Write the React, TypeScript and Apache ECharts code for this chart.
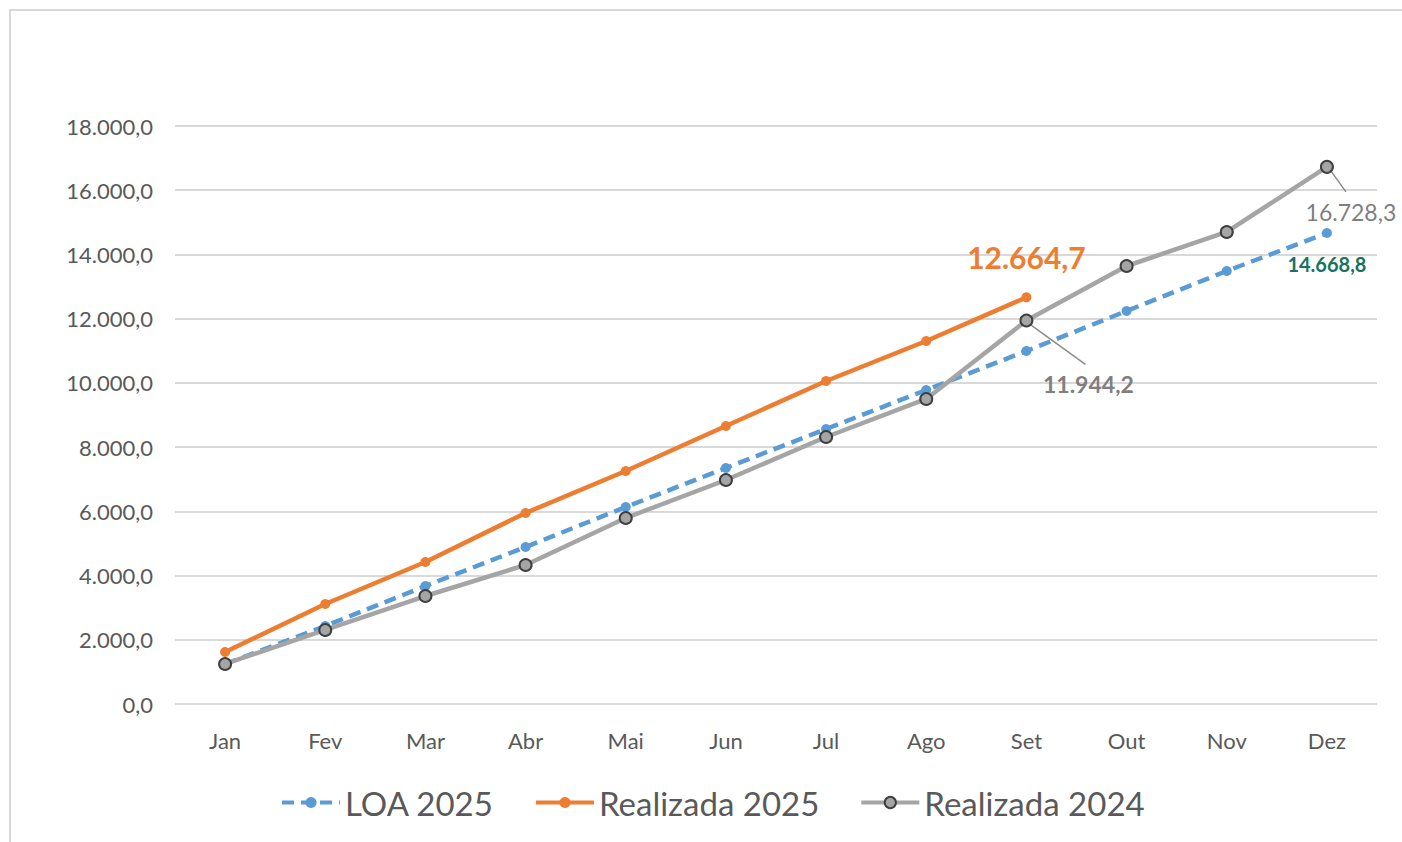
import React, { useEffect, useRef } from "react";
import * as echarts from "echarts";

const months = ["Jan", "Fev", "Mar", "Abr", "Mai", "Jun", "Jul", "Ago", "Set", "Out", "Nov", "Dez"];
const loa2025 = [1246, 2429, 3675, 4889, 6135, 7350, 8564, 9779, 10993, 12239, 13485, 14668.8];
const real2025 = [1619, 3114, 4422, 5948, 7256, 8657, 10059, 11305, 12664.7];
const real2024 = [1246, 2305, 3363, 4329, 5793, 6976, 8315, 9499, 11944.2, 13640, 14700, 16728.3];

const fmt = (v: number) => {
  const s = v.toFixed(1);
  const [i, d] = s.split(".");
  return i.replace(/\B(?=(\d{3})+(?!\d))/g, ".") + "," + d;
};

const FONT = "Lato, 'Open Sans', sans-serif";

export default function App() {
  const ref = useRef<HTMLDivElement>(null);
  useEffect(() => {
    if (!ref.current) return;
    const chart = echarts.init(ref.current, null, { renderer: "svg" });
    const lastLoa = loa2025.length - 1;
    const lastR25 = real2025.length - 1;
    const border = {
      type: "rect",
      id: "border",
      shape: { x: 10, y: 10, width: 1420, height: 860 },
      style: { fill: "none", stroke: "#d9d9d9", lineWidth: 2 },
      silent: true,
    };
    chart.setOption({
      animation: false,
      backgroundColor: "#ffffff",
      textStyle: { fontFamily: FONT },
      graphic: [border],
      grid: { left: 175, right: 25, top: 126, bottom: 138, containLabel: false },
      legend: {
        bottom: 18,
        left: 275,
        itemWidth: 58,
        itemHeight: 14,
        itemGap: 40,
        lineStyle: { width: 4 },
        textStyle: { fontSize: 33, color: "#595959", fontFamily: FONT },
        data: ["LOA 2025", "Realizada 2025", "Realizada 2024"],
      },
      xAxis: {
        type: "category",
        data: months,
        boundaryGap: true,
        axisLine: { show: false },
        axisTick: { show: false },
        axisLabel: { color: "#595959", fontSize: 22, margin: 25, fontFamily: FONT },
      },
      yAxis: {
        type: "value",
        min: 0,
        max: 18000,
        interval: 2000,
        axisLine: { show: false },
        axisTick: { show: false },
        splitLine: { lineStyle: { color: "#d9d9d9", width: 2 } },
        axisLabel: { color: "#595959", fontSize: 22, margin: 22, formatter: (v: number) => fmt(v), fontFamily: FONT },
      },
      series: [
        {
          name: "LOA 2025",
          type: "line",
          data: loa2025.map((v, i) =>
            i === lastLoa
              ? {
                  value: v,
                  label: {
                    show: true,
                    position: "bottom",
                    distance: 16,
                    formatter: (p: any) => fmt(p.value),
                    color: "#17735f",
                    fontWeight: "bold",
                    fontSize: 20,
                  },
                }
              : v
          ),
          symbol: "circle",
          symbolSize: 10,
          itemStyle: { color: "#5b9bd5" },
          lineStyle: { color: "#5b9bd5", width: 4.5, type: [12, 7] },
          z: 2,
        },
        {
          name: "Realizada 2025",
          type: "line",
          data: real2025.map((v, i) =>
            i === lastR25
              ? {
                  value: v,
                  label: {
                    show: true,
                    position: "top",
                    distance: 8,
                    offset: [0, -12],
                    formatter: (p: any) => fmt(p.value),
                    color: "#ed7d31",
                    fontWeight: "bold",
                    fontSize: 30,
                  },
                }
              : v
          ),
          symbol: "circle",
          symbolSize: 10,
          itemStyle: { color: "#ed7d31" },
          lineStyle: { color: "#ed7d31", width: 4.5 },
          z: 3,
        },
        {
          name: "Realizada 2024",
          type: "line",
          data: real2024.map((v, i) =>
            i === 8 || i === 11
              ? {
                  value: v,
                  label: {
                    show: true,
                    position: "bottom",
                    formatter: (p: any) => fmt(p.value),
                    color: "#7f7f7f",
                    fontWeight: i === 8 ? "bold" : "normal",
                    fontSize: 23,
                  },
                }
              : v
          ),
          labelLayout: (params: any) => {
            const cx = params.rect.x + params.rect.width / 2;
            const cy = params.rect.y + params.rect.height / 2;
            if (params.dataIndex === 8) {
              return { x: cx + 62, y: cy + 64, align: "center", verticalAlign: "middle" };
            }
            return { x: cx + 24, y: cy + 45, align: "center", verticalAlign: "middle" };
          },
          symbol: "circle",
          symbolSize: 12,
          itemStyle: { color: "#a5a5a5", borderColor: "#3f3f3f", borderWidth: 2 },
          lineStyle: { color: "#a5a5a5", width: 4.5 },
          z: 4,
        },
      ],
    });
    // leader lines anchored to the data points via the chart's own scales
    const pSet = chart.convertToPixel({ gridIndex: 0 }, [months[8], real2024[8]]) as number[];
    const pDez = chart.convertToPixel({ gridIndex: 0 }, [months[11], real2024[11]]) as number[];
    const leader = { stroke: "#8c8c8c", lineWidth: 1.5 };
    chart.setOption({
      graphic: [
        border,
        {
          type: "line",
          id: "leaderSet",
          shape: { x1: pSet[0] + 5, y1: pSet[1] + 5, x2: pSet[0] + 59, y2: pSet[1] + 44 },
          style: leader,
          silent: true,
          z: 1,
        },
        {
          type: "line",
          id: "leaderDez",
          shape: { x1: pDez[0] + 4, y1: pDez[1] + 4, x2: pDez[0] + 19, y2: pDez[1] + 25 },
          style: leader,
          silent: true,
          z: 1,
        },
      ],
    });
    return () => chart.dispose();
  }, []);
  return (
    <div
      ref={ref}
      style={{ position: "absolute", left: 0, top: 0, width: 1402, height: 842 }}
    />
  );
}
